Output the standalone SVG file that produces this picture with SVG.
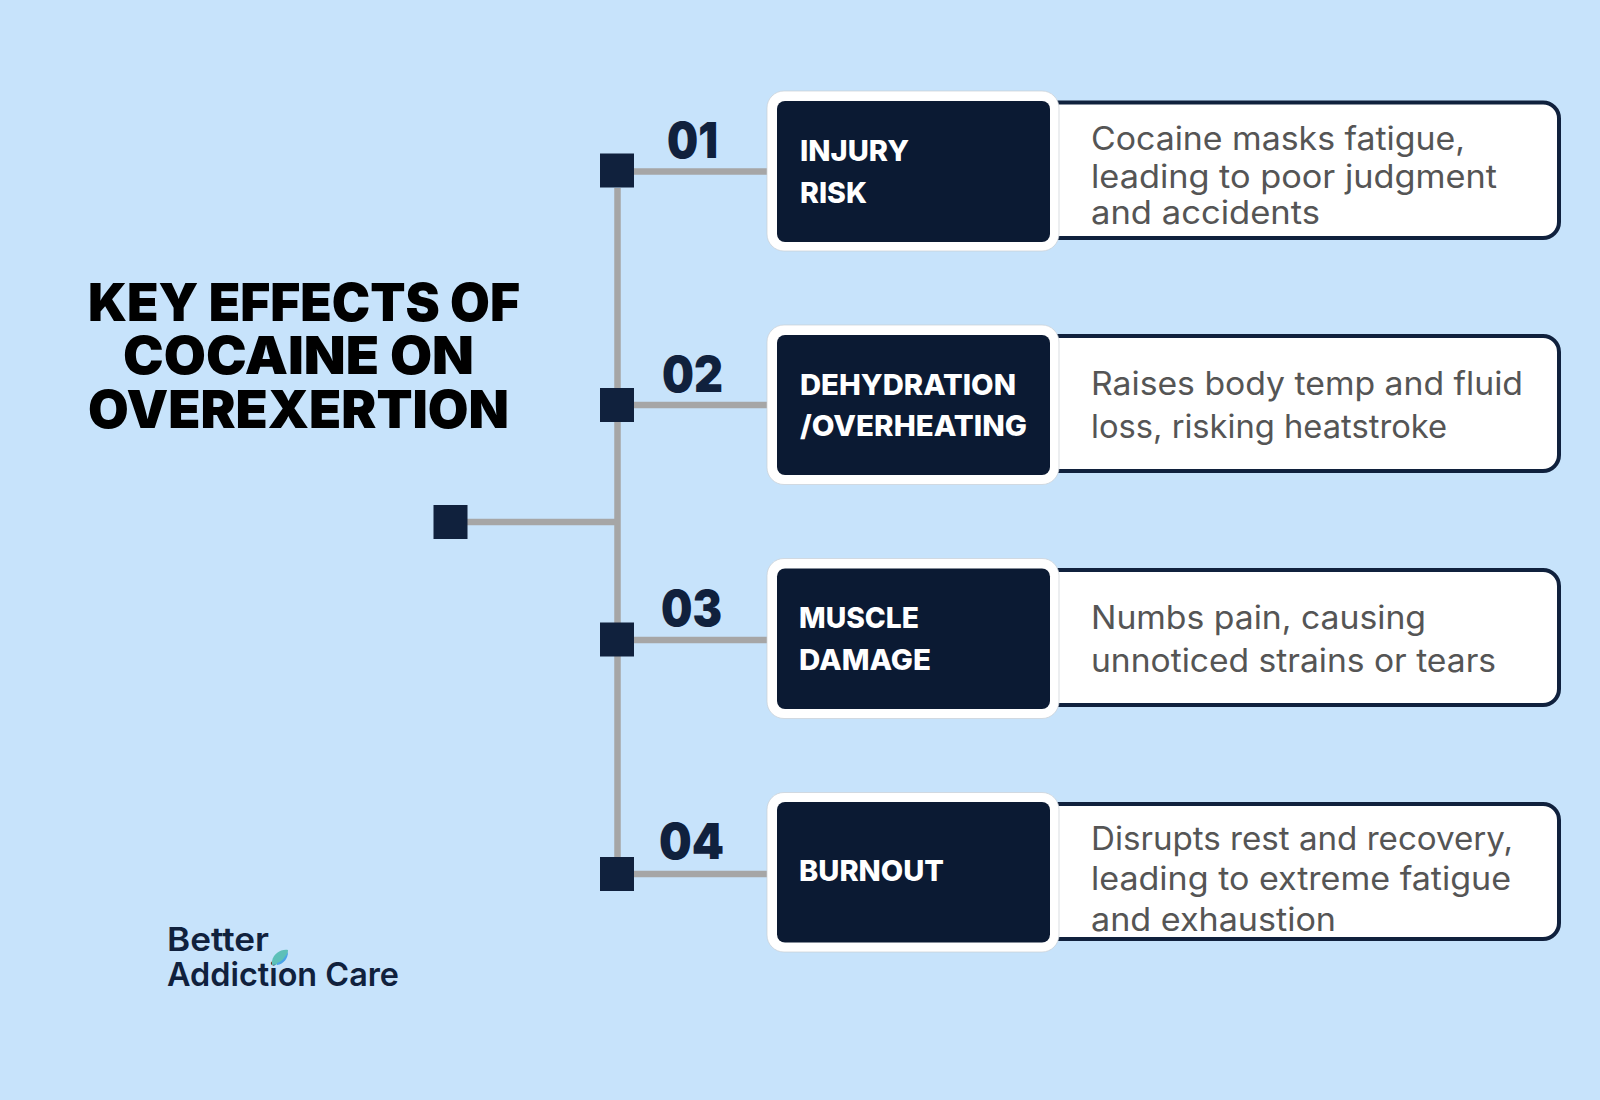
<svg xmlns="http://www.w3.org/2000/svg" width="1600" height="1100" viewBox="0 0 1600 1100">
<style>
.sq{fill:#10213d}
.ln{stroke:#a6a6a6;stroke-width:6.5;fill:none}
.desc{fill:#fff;stroke:#10213d;stroke-width:4}
.halo{fill:#fff;stroke:#c9ced4;stroke-width:.7}
.card{fill:#0b1a33}
text{font-family:"Inter","Open Sans","Liberation Sans",sans-serif}
.t{font-size:52px;font-weight:900;fill:#000}
.n{font-size:50px;font-weight:900;fill:#10213d}
.l{font-size:29px;font-weight:800;fill:#fff}
.d{font-size:32px;font-weight:400;fill:#555}
.logo{font-size:33px;font-weight:600;fill:#10213d}
</style>
<rect width="1600" height="1100" fill="#c7e3fb"/>
<g id="connectors">
<path class="ln" d="M617.500 188V874M467 522H617.500M634 171.500H767M634 405H767M634 640H767M634 874H767"/>
</g>
<g id="title">
<text class="t" x="88" y="320.500" textLength="432" lengthAdjust="spacingAndGlyphs">KEY EFFECTS OF</text>
<text class="t" x="123" y="373.500" textLength="351" lengthAdjust="spacingAndGlyphs">COCAINE ON</text>
<text class="t" x="88" y="427.500" textLength="421" lengthAdjust="spacingAndGlyphs">OVEREXERTION</text>
</g>
<g id="start"><rect class="sq" x="433.500" y="505" width="34" height="34"/></g>
<g id="row1">
<rect class="sq" x="600" y="153.500" width="34" height="34"/>
<text class="n" x="667" y="158" textLength="51" lengthAdjust="spacingAndGlyphs">01</text>
<rect class="desc" x="1040" y="102.500" width="519" height="135.500" rx="16"/>
<rect class="halo" x="767" y="91" width="292" height="160" rx="17"/>
<rect class="card" x="777" y="101" width="273" height="141" rx="8"/>
<text class="l" x="800" y="160.500" textLength="109" lengthAdjust="spacingAndGlyphs">INJURY</text>
<text class="l" x="800" y="203" textLength="67" lengthAdjust="spacingAndGlyphs">RISK</text>
<text class="d" x="1091" y="149.500" textLength="374" lengthAdjust="spacingAndGlyphs">Cocaine masks fatigue,</text>
<text class="d" x="1091" y="187.500" textLength="406" lengthAdjust="spacingAndGlyphs">leading to poor judgment</text>
<text class="d" x="1091" y="224" textLength="229" lengthAdjust="spacingAndGlyphs">and accidents</text>
</g>
<g id="row2">
<rect class="sq" x="600" y="388" width="34" height="34"/>
<text class="n" x="662" y="391.500" textLength="61" lengthAdjust="spacingAndGlyphs">02</text>
<rect class="desc" x="1040" y="336" width="519" height="135" rx="16"/>
<rect class="halo" x="767" y="325" width="292" height="159.500" rx="17"/>
<rect class="card" x="777" y="335" width="273" height="140" rx="8"/>
<text class="l" x="800" y="394.500" textLength="216" lengthAdjust="spacingAndGlyphs">DEHYDRATION</text>
<text class="l" x="800" y="435.500" textLength="227" lengthAdjust="spacingAndGlyphs">/OVERHEATING</text>
<text class="d" x="1091" y="395" textLength="432" lengthAdjust="spacingAndGlyphs">Raises body temp and fluid</text>
<text class="d" x="1091" y="438" textLength="356" lengthAdjust="spacingAndGlyphs">loss, risking heatstroke</text>
</g>
<g id="row3">
<rect class="sq" x="600" y="622.500" width="34" height="34"/>
<text class="n" x="661" y="625.500" textLength="61" lengthAdjust="spacingAndGlyphs">03</text>
<rect class="desc" x="1040" y="570" width="519" height="135" rx="16"/>
<rect class="halo" x="767" y="558.500" width="292" height="160" rx="17"/>
<rect class="card" x="777" y="568.500" width="273" height="140.500" rx="8"/>
<text class="l" x="799" y="628" textLength="120" lengthAdjust="spacingAndGlyphs">MUSCLE</text>
<text class="l" x="799" y="669.500" textLength="132" lengthAdjust="spacingAndGlyphs">DAMAGE</text>
<text class="d" x="1091" y="629" textLength="335" lengthAdjust="spacingAndGlyphs">Numbs pain, causing</text>
<text class="d" x="1091" y="672" textLength="405" lengthAdjust="spacingAndGlyphs">unnoticed strains or tears</text>
</g>
<g id="row4">
<rect class="sq" x="600" y="857" width="34" height="34"/>
<text class="n" x="659" y="858.500" textLength="65" lengthAdjust="spacingAndGlyphs">04</text>
<rect class="desc" x="1040" y="804" width="519" height="135" rx="16"/>
<rect class="halo" x="767" y="792.500" width="292" height="159.500" rx="17"/>
<rect class="card" x="777" y="802" width="273" height="140.500" rx="8"/>
<text class="l" x="799" y="881" textLength="145" lengthAdjust="spacingAndGlyphs">BURNOUT</text>
<text class="d" x="1091" y="850" textLength="422" lengthAdjust="spacingAndGlyphs">Disrupts rest and recovery,</text>
<text class="d" x="1091" y="890" textLength="420" lengthAdjust="spacingAndGlyphs">leading to extreme fatigue</text>
<text class="d" x="1091" y="931" textLength="245" lengthAdjust="spacingAndGlyphs">and exhaustion</text>
</g>
<g id="logo">
<text class="logo" x="167" y="951" textLength="102" lengthAdjust="spacingAndGlyphs">Better</text>
<text class="logo" x="167" y="986" textLength="232" lengthAdjust="spacingAndGlyphs">Addiction Care</text>
<path d="M272 961C274 953 281 949 288 950C288 957 282 965 272 965Z" fill="#5dc0b8"/>
<path d="M277 963C281 962 285 958 288 952C288 958 284 964 277 965Z" fill="#4aa3e8"/>
</g>
</svg>
